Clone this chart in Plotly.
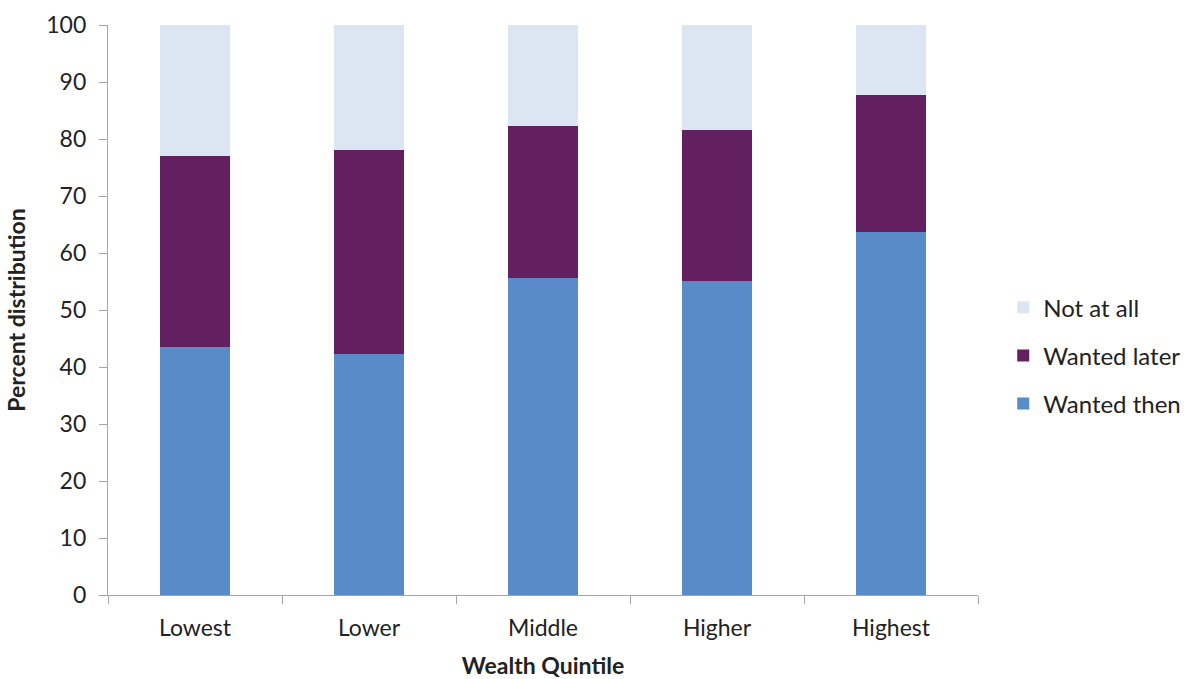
import plotly.graph_objects as go

# Wealth quintiles and percent distribution of births by wantedness
quintiles = ["Lowest", "Lower", "Middle", "Higher", "Highest"]
wanted_then = [43.5, 42.2, 55.7, 55.1, 63.6]
wanted_later = [33.6, 35.9, 26.6, 26.5, 24.1]
not_at_all = [22.9, 21.9, 17.7, 18.4, 12.3]

font_family = "Lato, 'Open Sans', sans-serif"
text_color = "#222222"
axis_color = "#A6A6A6"

# (name, values, colour, legend rank)
series = [
    ("Wanted then", wanted_then, "#588BC8", 3),
    ("Wanted later", wanted_later, "#622060", 2),
    ("Not at all", not_at_all, "#DCE6F2", 1),
]

fig = go.Figure()
for name, values, color, rank in series:
    fig.add_trace(go.Bar(
        x=quintiles,
        y=values,
        name=name,
        legendgroup=name,
        legendrank=rank,
        marker=dict(color=color, line=dict(width=0)),
    ))

fig.update_layout(
    barmode="stack",
    bargap=0.6,
    width=1187,
    height=679,
    margin=dict(l=108, r=209, t=25, b=84, autoexpand=False),
    paper_bgcolor="white",
    plot_bgcolor="white",
    font=dict(family=font_family, size=22, color=text_color),
    legend=dict(
        x=1.029, y=0.42, xanchor="left", yanchor="middle",
        traceorder="grouped",
        tracegroupgap=14,
        font=dict(size=24, color=text_color),
        bgcolor="rgba(0,0,0,0)",
    ),
    xaxis=dict(
        showline=True, linecolor=axis_color, linewidth=1.3,
        ticks="outside", tickson="boundaries", ticklen=8,
        tickcolor=axis_color, tickwidth=1.3,
        showgrid=False,
        ticklabelstandoff=12,
        tickfont=dict(size=23, color=text_color),
        title=dict(text="<b>Wealth Quintile</b>", font=dict(size=23), standoff=20),
    ),
    yaxis=dict(
        range=[0, 100], dtick=10,
        showline=True, linecolor=axis_color, linewidth=1.3,
        ticks="outside", ticklen=8, tickcolor=axis_color, tickwidth=1.3,
        showgrid=False, zeroline=False,
        ticklabelstandoff=8,
        tickfont=dict(size=23, color=text_color),
        title=dict(text="<b>Percent distribution</b>", font=dict(size=23), standoff=14),
    ),
)

fig.write_html("out.html")
